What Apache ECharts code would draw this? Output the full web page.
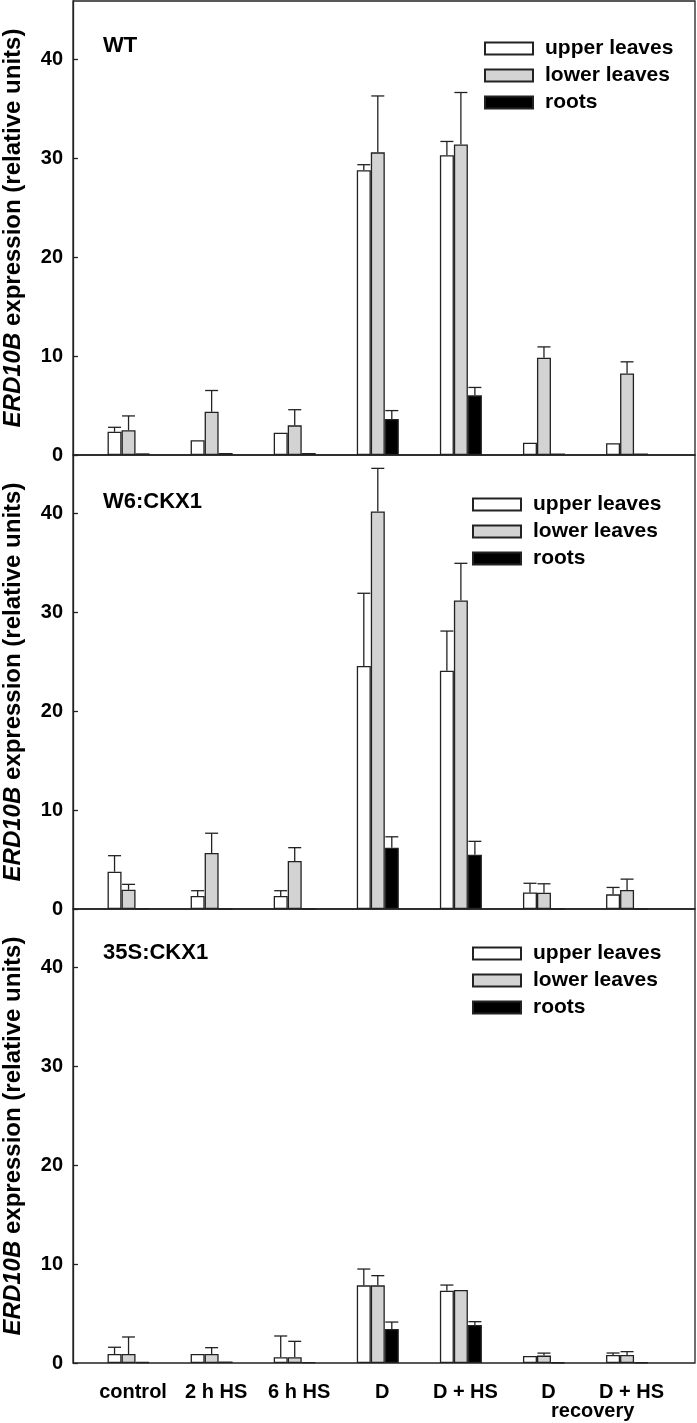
<!DOCTYPE html>
<html>
<head>
<meta charset="utf-8">
<script src="https://cdn.jsdelivr.net/npm/echarts@6/dist/echarts.min.js"></script>
<style>
html,body{margin:0;padding:0;background:#fff;}
#chart{width:697px;height:1423px;}
</style>
</head>
<body>
<div id="chart"></div>
<script>
// ---- data ----
var categories = ['control', '2 h HS', '6 h HS', 'D', 'D + HS', 'D', 'D + HS'];
var seriesNames = ['upper leaves', 'lower leaves', 'roots'];
var panelNames = ['WT', 'W6:CKX1', '35S:CKX1'];
var yTicks = [0, 10, 20, 30, 40];

var wtUpper    = [2.35, 1.5, 2.25, 28.8, 30.3, 1.24, 1.2];
var wtUpperErr = [0.45, 0, 0, 0.55, 1.4, 0, 0];
var wtLower    = [2.5, 4.37, 3.0, 30.6, 31.4, 9.83, 8.25];
var wtLowerErr = [1.45, 2.15, 1.58, 5.7, 5.25, 1.1, 1.17];
var wtRoots    = [0.17, 0.2, 0.2, 3.64, 6.03, 0.15, 0.15];
var wtRootsErr = [0, 0, 0, 0.85, 0.8, 0, 0];

var w6Upper    = [3.77, 1.31, 1.31, 24.57, 24.1, 1.68, 1.48];
var w6UpperErr = [1.62, 0.54, 0.54, 7.35, 4.0, 0.92, 0.7];
var w6Lower    = [1.95, 5.66, 4.85, 40.2, 31.2, 1.65, 1.92];
var w6LowerErr = [0.54, 2.0, 1.35, 4.35, 3.75, 0.9, 1.1];
var w6Roots    = [0.05, 0, 0, 6.2, 5.49, 0, 0];
var w6RootsErr = [0, 0, 0, 1.1, 1.35, 0, 0];

var s35Upper    = [0.91, 0.91, 0.58, 7.85, 7.31, 0.71, 0.81];
var s35UpperErr = [0.68, 0, 2.15, 1.65, 0.57, 0, 0.2];
var s35Lower    = [0.91, 0.91, 0.58, 7.85, 7.38, 0.75, 0.81];
var s35LowerErr = [1.72, 0.64, 1.61, 0.98, 0, 0.25, 0.34];
var s35Roots    = [0.1, 0.15, 0.08, 3.43, 3.84, 0.05, 0.05];
var s35RootsErr = [0, 0, 0, 0.71, 0.34, 0, 0];

var panels = [
  {vals: [wtUpper, wtLower, wtRoots], errs: [wtUpperErr, wtLowerErr, wtRootsErr]},
  {vals: [w6Upper, w6Lower, w6Roots], errs: [w6UpperErr, w6LowerErr, w6RootsErr]},
  {vals: [s35Upper, s35Lower, s35Roots], errs: [s35UpperErr, s35LowerErr, s35RootsErr]}
];

// ---- layout / style ----
var FONT = "'Liberation Sans', Arial, sans-serif";
var LINE = '#222';
var Y_MAX = 45.9;
var BAR_W = 14;
var fills = ['#ffffff', '#d3d3d3', '#000000'];
var panelTop = [1, 455, 909];
var panelH = 454;
var frameLeft = 73, frameRight = 2;
var barsLeft = 87, barsWidth = 581.6;
var legendLeft = [484, 472, 472];
var legendTop = [38, 494, 943];

var chart = echarts.init(document.getElementById('chart'));

var grid = [], xAxis = [], yAxis = [], series = [], legend = [], graphic = [];

panels.forEach(function (p, k) {
  grid.push({left: frameLeft, right: frameRight, top: panelTop[k], height: panelH,
    containLabel: false, outerBoundsMode: 'none',
    show: true, borderColor: LINE, borderWidth: 1.3, backgroundColor: 'transparent'});
});
panels.forEach(function (p, k) {
  grid.push({left: barsLeft, width: barsWidth, top: panelTop[k], height: panelH,
    containLabel: false, outerBoundsMode: 'none'});
});

panels.forEach(function (p, k) {
  xAxis.push({type: 'value', gridIndex: k, show: false, min: 0, max: 1});
  yAxis.push({
    type: 'value', gridIndex: k, min: 0, max: Y_MAX, interval: 10,
    axisLine: {show: true, lineStyle: {color: LINE, width: 1.3}},
    axisTick: {show: true, inside: true, length: 5, lineStyle: {color: LINE, width: 1.3}},
    splitLine: {show: false},
    axisLabel: {show: true, showMaxLabel: false, margin: 10, color: '#000',
      fontFamily: FONT, fontWeight: 'bold', fontSize: 20},
    name: '{i|ERD10B} expression (relative units)',
    nameLocation: 'middle', nameRotate: 90, nameGap: 48,
    nameTextStyle: {color: '#000', fontFamily: FONT, fontWeight: 'bold', fontSize: 24,
      rich: {i: {fontStyle: 'italic', fontWeight: 'bold', fontFamily: FONT, fontSize: 24, color: '#000'}}}
  });
});
panels.forEach(function (p, k) {
  xAxis.push({
    type: 'category', gridIndex: 3 + k, data: categories,
    axisLine: {show: false}, axisTick: {show: false},
    axisLabel: {show: k === 2, interval: 0, margin: 19, color: '#000',
      fontFamily: FONT, fontWeight: 'bold', fontSize: 20, padding: [0, 0, 0, 9]}
  });
  yAxis.push({type: 'value', gridIndex: 3 + k, min: 0, max: Y_MAX, show: false,
    splitLine: {show: false}});
});

function renderErr(params, api) {
  var ci = api.value(0), v = api.value(1), e = api.value(2), s = api.value(3);
  if (!(e > 0)) return;
  var base = api.coord([ci, v]);
  var top = api.coord([ci, v + e]);
  var x = base[0] + (s - 1) * BAR_W;
  var half = (BAR_W - 1) / 2;
  var st = {stroke: LINE, lineWidth: 1.3, fill: null};
  return {type: 'group', children: [
    {type: 'line', shape: {x1: x, y1: base[1], x2: x, y2: top[1]}, style: st},
    {type: 'line', shape: {x1: x - half, y1: top[1], x2: x + half, y2: top[1]}, style: st}
  ]};
}

panels.forEach(function (p, k) {
  p.vals.forEach(function (arr, s) {
    series.push({
      type: 'bar', name: seriesNames[s], xAxisIndex: 3 + k, yAxisIndex: 3 + k,
      data: arr, barWidth: BAR_W, barGap: '0%',
      itemStyle: {color: fills[s], borderColor: LINE, borderWidth: 1.3},
      emphasis: {disabled: true}, silent: true, z: 3
    });
  });
  var errData = [];
  p.vals.forEach(function (arr, s) {
    arr.forEach(function (v, i) { errData.push([i, v, p.errs[s][i], s]); });
  });
  series.push({
    type: 'custom', xAxisIndex: 3 + k, yAxisIndex: 3 + k, renderItem: renderErr,
    data: errData, encode: {x: 0, y: 1}, silent: true, z: 2
  });
  legend.push({
    data: seriesNames, orient: 'vertical', left: legendLeft[k], top: legendTop[k],
    padding: 0,
    itemWidth: 48, itemHeight: 12, itemGap: 6, selectedMode: false, icon: 'rect',
    textStyle: {color: '#000', fontFamily: FONT, fontWeight: 'bold', fontSize: 21,
      lineHeight: 21, padding: [0, 0, 0, 7]}
  });
  graphic.push({
    type: 'text', left: 103, top: [45.7, 501.7, 953][k] - 11,
    style: {text: panelNames[k], fill: '#000', font: 'bold 22px ' + FONT}
  });
});

graphic.push({
  type: 'text', left: 593 - 42, top: 1401,
  style: {text: 'recovery', fill: '#000', font: 'bold 20px ' + FONT}
});

chart.setOption({
  animation: false,
  backgroundColor: '#fff',
  grid: grid, xAxis: xAxis, yAxis: yAxis, series: series, legend: legend, graphic: graphic
});
</script>
</body>
</html>
